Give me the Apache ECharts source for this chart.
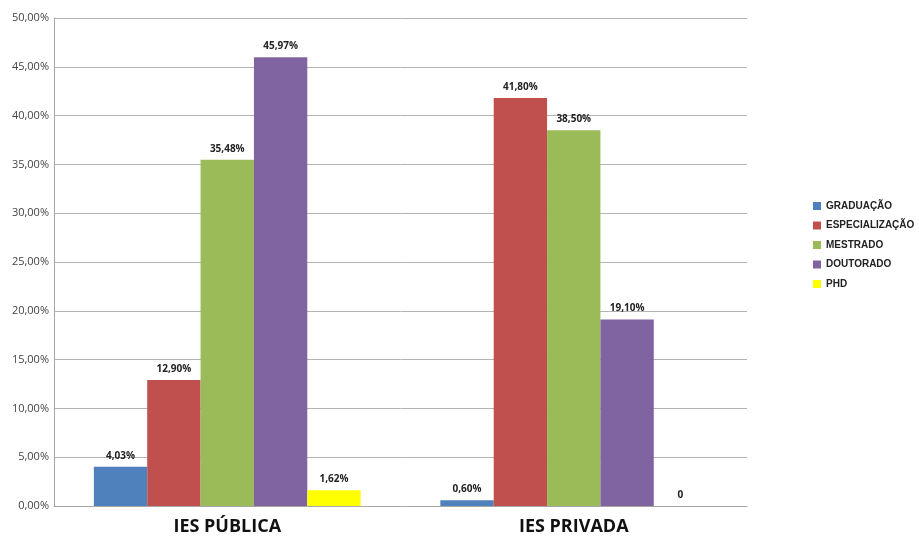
<!DOCTYPE html>
<html>
<head>
<meta charset="utf-8">
<script src="https://cdn.jsdelivr.net/npm/echarts@6/dist/echarts.min.js"></script>
<style>
  html, body { margin: 0; padding: 0; background: #fff; }
  #chart { width: 919px; height: 540px; }
</style>
</head>
<body>
<div id="chart"></div>
<script>
// categorias (eixo x)
const categories = ['IES PÚBLICA', 'IES PRIVADA']
// níveis de formação (séries)
const levels = ['GRADUAÇÃO', 'ESPECIALIZAÇÃO', 'MESTRADO', 'DOUTORADO', 'PHD']
// valores em % (pública, privada)
const graduacao = [4.03, 0.60]
const especializacao = [12.90, 41.80]
const mestrado = [35.48, 38.50]
const doutorado = [45.97, 19.10]
const phd = [1.62, 0]
const colors = ['#4F81BD', '#C0504D', '#9BBB59', '#8064A2', '#FFFF00']

const values = [graduacao, especializacao, mestrado, doutorado, phd]

const fmtPct = v => v.toFixed(2).replace('.', ',') + '%'

const chart = echarts.init(document.getElementById('chart'))

const option = {
  animation: false,
  backgroundColor: '#fff',
  textStyle: { fontFamily: 'Open Sans' },
  grid: { left: 54, right: 172, top: 18, bottom: 34 },
  legend: {
    orient: 'vertical',
    left: 808,
    top: 195,
    itemWidth: 8,
    itemHeight: 8,
    itemGap: 7.5,
    icon: 'rect',
    data: levels,
    textStyle: { fontSize: 10, lineHeight: 12, color: '#222', fontWeight: 'bold', fontFamily: 'Liberation Sans' }
  },
  xAxis: {
    type: 'category',
    data: categories,
    axisTick: { show: false },
    axisLine: { lineStyle: { color: '#a6a6a6' } },
    axisLabel: { fontSize: 18, fontWeight: 'bold', color: '#111', margin: 12 }
  },
  yAxis: {
    type: 'value',
    min: 0,
    max: 50,
    interval: 5,
    axisLine: { show: true, lineStyle: { color: '#a6a6a6' } },
    axisTick: { show: false },
    splitLine: { lineStyle: { color: '#b4b4b4' } },
    axisLabel: {
      fontSize: 11,
      color: '#444',
      margin: 5,
      formatter: v => fmtPct(v)
    }
  },
  series: levels.map((name, i) => ({
    name,
    type: 'bar',
    data: values[i],
    barGap: '0%',
    barCategoryGap: '23%',
    itemStyle: { color: colors[i] },
    label: {
      show: true,
      position: 'top',
      distance: 6,
      fontSize: 10,
      fontWeight: 'bold',
      color: '#222',
      formatter: p => (p.value === 0 ? '0' : fmtPct(p.value))
    }
  }))
}

chart.setOption(option)
</script>
</body>
</html>
